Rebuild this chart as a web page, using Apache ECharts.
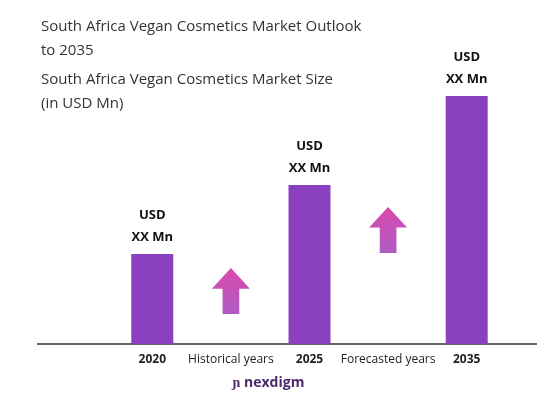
<!DOCTYPE html>
<html><head><meta charset="utf-8">
<script src="https://cdn.jsdelivr.net/npm/echarts@6/dist/echarts.min.js"></script>
<style>html,body{margin:0;padding:0;background:#fff}#c{width:537px;height:407px}</style>
</head><body><div id="c"></div>
<script>
const categories = ["2020", "Historical years", "2025", "Forecasted years", "2035"];
const barValues = [36.3, null, 64.1, null, 100];
const arrowValues = [null, 21.4, null, 46, null];
const barLabel = "USD\nXX Mn";

const chart = echarts.init(document.getElementById('c'));
const arrowPath = 'path://M50,0 L100,45 L72,45 L72,100 L28,100 L28,45 L0,45 Z';
chart.setOption({
  animation: false,
  grid: {left: 113, right: 31, top: 96, bottom: 63},
  title: [
    {text: "South Africa Vegan Cosmetics Market Outlook\nto 2035", left: 36, top: 10,
     textStyle: {fontFamily: "Open Sans", fontSize: 15, fontWeight: 'normal', color: '#333', lineHeight: 24}},
    {text: "South Africa Vegan Cosmetics Market Size\n(in USD Mn)", left: 36, top: 63,
     textStyle: {fontFamily: "Open Sans", fontSize: 15, fontWeight: 'normal', color: '#333', lineHeight: 24}}
  ],
  xAxis: {type: 'category', data: categories, axisLine: {show: false}, axisTick: {show: false},
    axisLabel: {interval: 0, margin: 10, fontFamily: "Open Sans", fontSize: 12, color: '#222',
      formatter: v => /^\d+$/.test(v) ? '{b|' + v + '}' : v,
      rich: {b: {fontWeight: 'bold', fontSize: 12, fontFamily: "Open Sans", color: '#222'}}}},
  yAxis: {type: 'value', min: 0, max: 100, show: false},
  graphic: [
    {type: 'line', shape: {x1: 37, y1: 344, x2: 537, y2: 344}, style: {stroke: '#333', lineWidth: 1.5}},
    {type: 'text', left: 'center', top: 376, style: {text: 'ɲ nexdigm', fontFamily: 'Open Sans', fontSize: 14, fontWeight: 'bold', fill: '#4a2a6a'}}
  ],
  series: [
    {type: 'bar', data: barValues, barWidth: 42, itemStyle: {color: '#8b40c0'},
     label: {show: true, position: 'top', distance: 6, formatter: barLabel, fontFamily: 'Open Sans',
       fontSize: 13, fontWeight: 'bold', color: '#111', lineHeight: 22}},
    {type: 'scatter', data: arrowValues, symbol: arrowPath, symbolSize: [38, 46],
     itemStyle: {color: new echarts.graphic.LinearGradient(0, 0, 0, 1, [{offset: 0, color: '#d21c96'}, {offset: 1, color: '#9a32b8'}])}}
  ]
});
</script></body></html>
